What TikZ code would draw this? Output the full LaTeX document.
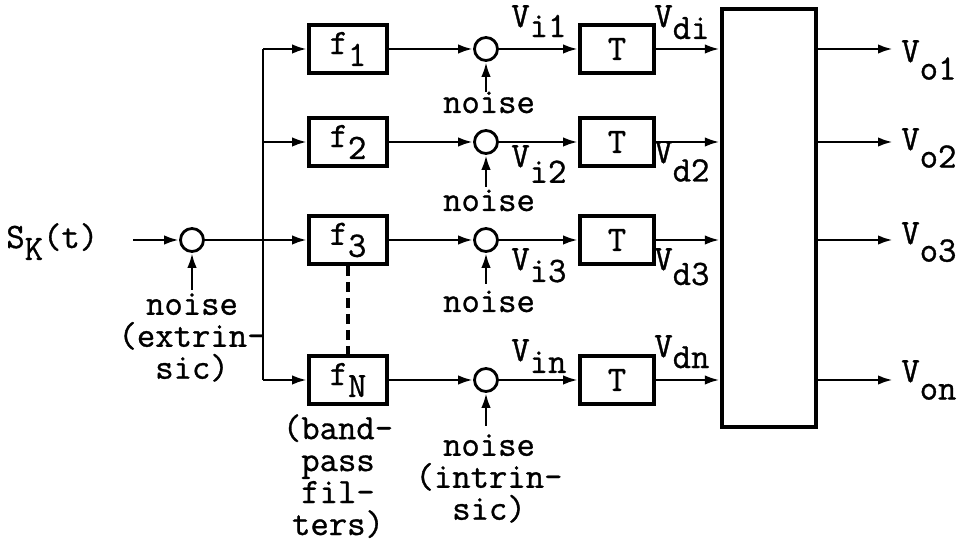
\documentclass[tikz,border=0pt]{standalone}
\usepackage{fontspec}
\setmonofont{Latin Modern Mono}[FakeBold=0.9]
\usetikzlibrary{arrows.meta}
\newcommand\subl[2][10pt]{\raisebox{-#1}{#2}}
\lineskiplimit=-20pt

\begin{document}
\begin{tikzpicture}[x=0.02cm, y=-0.02cm,
    every node/.style={font=\ttfamily\fontsize{20.3}{18.2}\selectfont, inner sep=0pt},
    blk/.style={draw, line width=2.2pt, minimum width=1.56cm, minimum height=0.96cm},
    dly/.style={draw, line width=2.2pt, minimum width=1.48cm, minimum height=0.96cm},
    sum/.style={draw, circle, line width=1.6pt, minimum size=0.46cm},
    wire/.style={line width=1.6pt},
    sig/.style={wire, -{Latex[length=3mm,width=1.9mm]}}]
    \useasboundingbox (0,0) rectangle (965,543);

    \node[anchor=base west] (sk) at (6,248) {S\subl[6.8pt]{K}(t)};
    \coordinate (skin) at (133,240);
    \node[sum] (s0) at (192,240) {};
    \coordinate (nz0) at (192,290);
    \node[anchor=north, align=center] (nt0) at (192,293) {noise\\(extrin-\\sic)};

    \coordinate (b1) at (263,49);
    \coordinate (b2) at (263,142);
    \coordinate (b3) at (263,240);
    \coordinate (b4) at (263,380);

    \node[blk] (f1) at (348,49) {f\subl[6.8pt]{1}};
    \node[blk] (f2) at (348,142) {f\subl[6.8pt]{2}};
    \node[blk] (f3) at (348,240) {f\subl[6.8pt]{3}};
    \node[blk] (fN) at (348,380) {f\subl[6.8pt]{N}};
    \node[anchor=north, align=center] (bpf) at (338,414) {(band-\\pass\\fil-\\ters)};

    \node[sum] (c1) at (486,49) {};
    \node[sum] (c2) at (486,142) {};
    \node[sum] (c3) at (486,240) {};
    \node[sum] (c4) at (486,380) {};
    \coordinate (nz1) at (486,92);
    \coordinate (nz2) at (486,187);
    \coordinate (nz3) at (486,284);
    \coordinate (nz4) at (486,426);
    \node[anchor=base] (nt1) at (489,113) {noise};
    \node[anchor=base] (nt2) at (489,211) {noise};
    \node[anchor=base] (nt3) at (489,312) {noise};
    \node[anchor=north, align=center] (nt4) at (489,434) {noise\\(intrin-\\sic)};

    \node[dly] (t1) at (617,49) {T};
    \node[dly] (t2) at (617,142) {T};
    \node[dly] (t3) at (617,240) {T};
    \node[dly] (t4) at (617,380) {T};

    \node[draw, line width=2.5pt, minimum width=1.88cm, minimum height=8.36cm] (ob) at (769,218) {};

    \coordinate (o1) at (893,49);
    \coordinate (o2) at (893,142);
    \coordinate (o3) at (893,240);
    \coordinate (o4) at (893,380);

    \node[anchor=base west] (vi1) at (511,27) {V\subl[5.7pt]{i1}};
    \node[anchor=base west] (vd1) at (654,27) {V\subl[6.8pt]{di}};
    \node[anchor=base west] (vi2) at (511,167) {V\subl[9pt]{i2}};
    \node[anchor=base west] (vd2) at (654,163) {V\subl[10.5pt]{d2}};
    \node[anchor=base west] (vi3) at (511,270) {V\subl[6.8pt]{i3}};
    \node[anchor=base west] (vd3) at (654,270) {V\subl[8.5pt]{d3}};
    \node[anchor=base west] (vin) at (511,361) {V\subl[6.8pt]{in}};
    \node[anchor=base west] (vdn) at (654,357) {V\subl[6.3pt]{dn}};
    \node[anchor=base west] (vo1) at (901,62) {V\subl{o1}};
    \node[anchor=base west] (vo2) at (901,150) {V\subl{o2}};
    \node[anchor=base west] (vo3) at (901,244) {V\subl{o3}};
    \node[anchor=base west] (vo4) at (901,382) {V\subl{on}};

    \draw[sig] (skin) -- (s0);
    \draw[sig] (nz0) -- (s0);
    \draw[sig] (s0) -- (f3);
    \draw[wire] (b1) -- (b4);
    \draw[sig] (b1) -- (f1);
    \draw[sig] (b2) -- (f2);
    \draw[sig] (b4) -- (fN);
    \draw[line width=2pt, dash pattern=on 2mm off 1.2mm] (f3) -- (fN);

    \draw[sig] (f1) -- (c1);
    \draw[sig] (f2) -- (c2);
    \draw[sig] (f3) -- (c3);
    \draw[sig] (fN) -- (c4);
    \draw[sig] (nz1) -- (c1);
    \draw[sig] (nz2) -- (c2);
    \draw[sig] (nz3) -- (c3);
    \draw[sig] (nz4) -- (c4);

    \draw[sig] (c1) -- (t1);
    \draw[sig] (c2) -- (t2);
    \draw[sig] (c3) -- (t3);
    \draw[sig] (c4) -- (t4);
    \draw[sig] (t1) -- (t1 -| ob.west);
    \draw[sig] (t2) -- (t2 -| ob.west);
    \draw[sig] (t3) -- (t3 -| ob.west);
    \draw[sig] (t4) -- (t4 -| ob.west);

    \draw[sig] (ob.east |- o1) -- (o1);
    \draw[sig] (ob.east |- o2) -- (o2);
    \draw[sig] (ob.east |- o3) -- (o3);
    \draw[sig] (ob.east |- o4) -- (o4);
\end{tikzpicture}
\end{document}
